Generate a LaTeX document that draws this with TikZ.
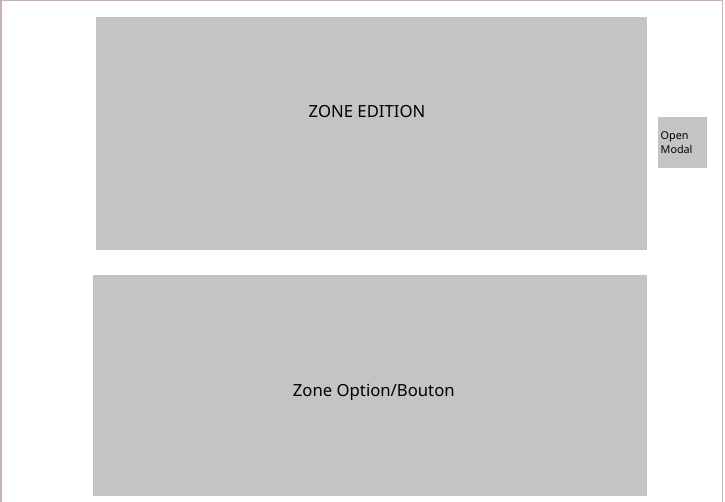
\documentclass[tikz,border=0pt]{standalone}
\usepackage{fontspec}
\setmainfont{Noto Sans}
\usepackage{tikz}
\definecolor{zonegray}{RGB}{196,196,196}
\definecolor{frameline}{RGB}{196,178,178}
\tikzset{
	zone/.style={fill=zonegray, draw=none, inner sep=0pt, anchor=north west},
	zonetext/.style={inner sep=0pt, anchor=base, font=\fontsize{16.7}{20}\selectfont},
}

\begin{document}
\begin{tikzpicture}[x=1pt, y=-1pt]
		\useasboundingbox(0, 0)rectangle(725, 502);
		\draw[frameline, line width=1.5pt](0.75, 502)--(0.75, 0.5)--(722.25, 0.5)--(722.25, 502);
		\node[zone, minimum width=551pt, minimum height=233pt](edition)at(96, 17){};
		\node[zone, minimum width=554pt, minimum height=221pt](option)at(93, 275){};
		\node[zone, minimum width=49pt, minimum height=51pt](modal)at(657.3, 117.3){};
		\node[zonetext](editionlabel)at(367, 117.3){ZONE EDITION};
		\node[zonetext](optionlabel)at(373.8, 396){Zone Option/Bouton};
		\node[inner sep=0pt, anchor=base west, align=left, font=\fontsize{10.8}{14}\selectfont](modallabel)at(660.5, 154){Open\\Modal};
	\end{tikzpicture}
\end{document}
